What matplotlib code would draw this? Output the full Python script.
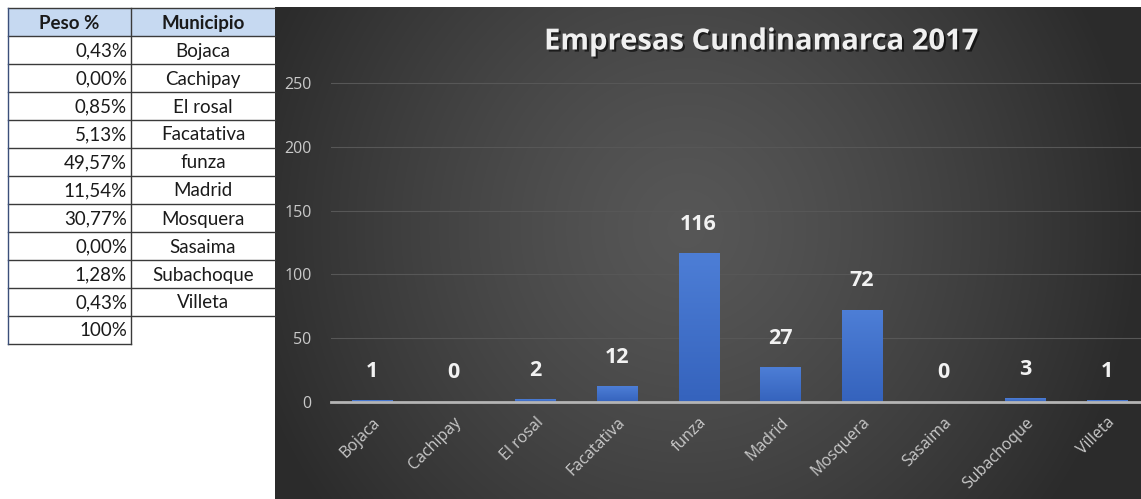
import matplotlib.pyplot as plt
import matplotlib.patheffects as pe
from matplotlib.patches import Rectangle
import numpy as np

# datos
municipios = ["Bojaca", "Cachipay", "El rosal", "Facatativa", "funza",
              "Madrid", "Mosquera", "Sasaima", "Subachoque", "Villeta"]
empresas = [1, 0, 2, 12, 116, 27, 72, 0, 3, 1]
yticks = [0, 50, 100, 150, 200, 250]
titulo = "Empresas Cundinamarca 2017"
encabezado = ["Peso %", "Municipio"]

total = sum(empresas)
pesos = [100.0 * e / total for e in empresas]

W, H = 1141, 499
fig = plt.figure(figsize=(W / 100, H / 100), dpi=100)
fig.patch.set_facecolor("white")

# capa de fondo en pixeles (tabla + panel oscuro)
bg = fig.add_axes([0, 0, 1, 1], zorder=0)
bg.set_xlim(0, W)
bg.set_ylim(H, 0)
bg.axis("off")

# panel oscuro con degradado radial
px0, py0 = 275, 7
xx, yy = np.meshgrid(np.linspace(-1, 1, 500), np.linspace(-1, 1, 250))
r = np.sqrt((xx + 0.05) ** 2 + (0.55 * (yy + 0.1)) ** 2)
r = np.clip(r / 1.05, 0, 1)
val = 0.34 - 0.17 * r ** 1.3
img = np.dstack([val, val, val])
bg.imshow(img, extent=(px0, W, H, py0), aspect="auto", interpolation="bilinear")

# tabla
col_x = [8, 131, 275]
row_h = 28
top = 8
bg.add_patch(Rectangle((col_x[0], top), col_x[2] - col_x[0], row_h,
                       facecolor="#c6d9f1", edgecolor="none"))
tfont = dict(family="Lato", fontsize=13.5, color="#1a1a1a")
bg.text((col_x[0] + col_x[1]) / 2, top + row_h / 2 + 1, encabezado[0],
        ha="center", va="center", fontweight="bold", **tfont)
bg.text((col_x[1] + col_x[2]) / 2, top + row_h / 2 + 1, encabezado[1],
        ha="center", va="center", fontweight="bold", **tfont)
for i, (m, p) in enumerate(zip(municipios, pesos)):
    yc = top + row_h * (i + 1) + row_h / 2 + 1
    bg.text(col_x[1] - 4, yc, ("%.2f%%" % p).replace(".", ","),
            ha="right", va="center", **tfont)
    bg.text((col_x[1] + col_x[2]) / 2, yc, m, ha="center", va="center", **tfont)
yc = top + row_h * 11 + row_h / 2 + 1
bg.text(col_x[1] - 4, yc, "%d%%" % round(sum(pesos)), ha="right", va="center", **tfont)

lc = "#3a3a3a"
n_rows = len(municipios) + 1
for k in range(n_rows + 1):
    y = top + row_h * k
    bg.plot([col_x[0], col_x[2]], [y, y], color=lc, lw=1)
y_end = top + row_h * (n_rows + 1)
bg.plot([col_x[0], col_x[1]], [y_end, y_end], color=lc, lw=1)
bg.plot([col_x[0], col_x[0]], [top, y_end], color="#3b4f7a", lw=1)
bg.plot([col_x[1], col_x[1]], [top, y_end], color=lc, lw=1)

# grafico de barras
y0_px, y250_px = 402, 83
ppu = (y0_px - y250_px) / 250.0
ymax = 262
x_left, step = 331, 81.7
ax = fig.add_axes([x_left / W, (H - y0_px) / H, 10 * step / W, ymax * ppu / H], zorder=1)
ax.set_facecolor("none")
x = np.arange(len(municipios))
bw = 0.49
grad = np.linspace(0, 1, 64).reshape(-1, 1)
c_top = np.array([0x4d, 0x7e, 0xd6]) / 255.0
c_bot = np.array([0x35, 0x63, 0xbd]) / 255.0
gimg = c_bot + (c_top - c_bot) * grad[:, :, None]
for xi, v in zip(x, empresas):
    if v > 0:
        ax.imshow(gimg, extent=(xi - bw / 2, xi + bw / 2, 0, v), origin="lower",
                  aspect="auto", zorder=3, interpolation="bilinear")
ax.set_xlim(-0.5, len(municipios) - 0.5)
ax.set_ylim(0, ymax)
ax.set_aspect("auto")
ax.set_yticks(yticks)
ax.set_xticks(x)
ax.set_xticklabels(municipios, rotation=45, ha="right", rotation_mode="anchor",
                   family="Open Sans", fontsize=11.5, color="#c9c9c9")
ax.set_yticklabels([str(t) for t in yticks], family="Open Sans", fontsize=11.5,
                   color="#c9c9c9")
ax.tick_params(axis="both", length=0)
ax.tick_params(axis="y", pad=14)
ax.tick_params(axis="x", pad=9)
ax.grid(axis="y", color="#575757", lw=0.8, zorder=0)
for s in ["top", "right", "left"]:
    ax.spines[s].set_visible(False)
ax.spines["bottom"].set_color("#b4b4b4")
ax.spines["bottom"].set_linewidth(2)
ax.spines["bottom"].set_zorder(4)

for xi, v in zip(x, empresas):
    ax.annotate(str(v), (xi, v), xytext=(0, 21), textcoords="offset points",
                ha="center", va="center", family="Open Sans", fontweight="bold",
                fontsize=15.5, color="#f2f2f2")

fig.text(761 / W, 1 - 42 / H, titulo, ha="center", va="center", family="Open Sans",
         fontweight="bold", fontsize=21, color="#f0f0f0",
         path_effects=[pe.withSimplePatchShadow(offset=(1.5, -1.5), shadow_rgbFace="black", alpha=0.6)])

plt.savefig("out.png", dpi=100)
